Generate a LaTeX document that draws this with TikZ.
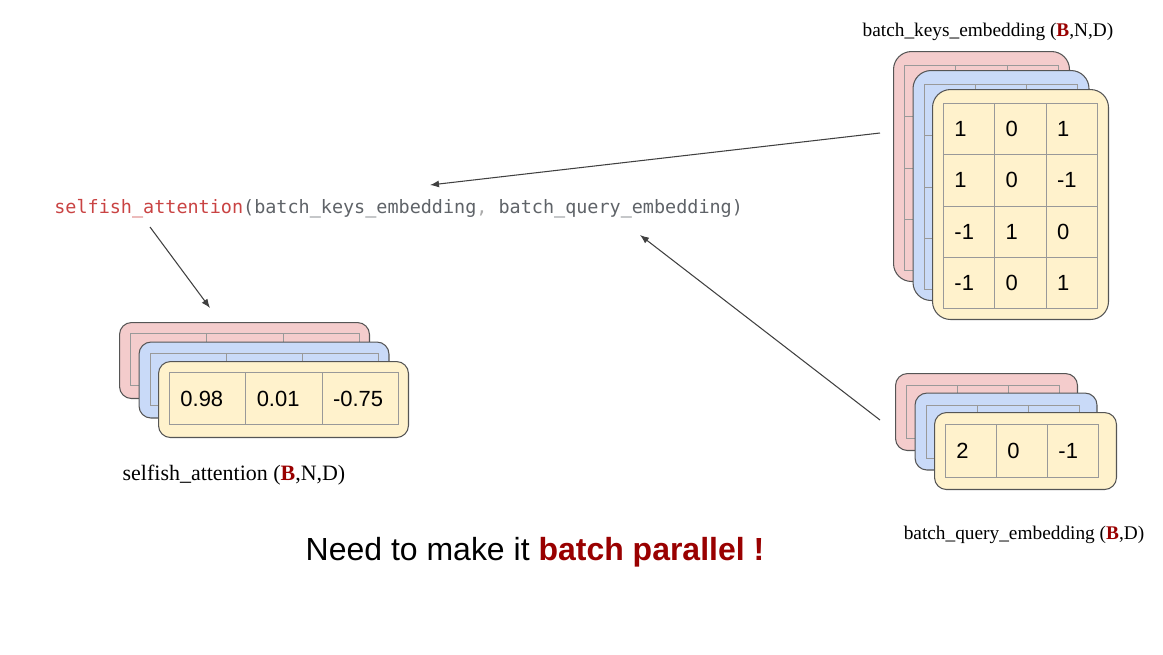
\documentclass[tikz,border=0pt]{standalone}
\usepackage{fontspec}
\setmainfont{Liberation Serif}
\setsansfont{Liberation Sans}
\setmonofont{DejaVu Sans Mono}
\usetikzlibrary{arrows.meta}
\definecolor{cardpink}{HTML}{F4CCCC}
\definecolor{cardblue}{HTML}{C9DAF8}
\definecolor{cardyellow}{HTML}{FFF2CC}
\definecolor{cardline}{HTML}{555555}
\definecolor{gridgray}{HTML}{999999}
\definecolor{darkred}{HTML}{990000}
\definecolor{codered}{HTML}{C94343}
\definecolor{codegray}{HTML}{5F6368}
\definecolor{commagray}{HTML}{AAAAAA}

\begin{document}
\begin{tikzpicture}[x=0.02cm,y=-0.02cm,
			card/.style={draw=cardline, line width=0.6pt, anchor=north west, inner sep=0pt},
			keycard/.style={card, rounded corners=0.36cm, minimum width=3.52cm, minimum height=4.6cm},
			outcard/.style={card, rounded corners=0.24cm, minimum width=5cm, minimum height=1.52cm},
			querycard/.style={card, rounded corners=0.24cm, minimum width=3.64cm, minimum height=1.54cm},
			cell/.style={draw=gridgray, line width=0.5pt, anchor=north west, inner xsep=0.22cm, inner ysep=0pt,
				align=left, font=\sffamily\fontsize{12.5}{14}\selectfont},
			keycell/.style={cell, text width=0.586cm, minimum height=1.025cm},
			outcell/.style={cell, text width=1.087cm, minimum height=1.04cm},
			querycell/.style={cell, text width=0.58cm, minimum height=1.06cm},
			caption/.style={font=\fontsize{11}{13}\selectfont},
			conn/.style={draw=black!75, line width=0.6pt, -{Latex[length=1.8mm,width=1.4mm]}}]
	\useasboundingbox (0,0) rectangle (1163,654);

	% keys stack
	\foreach \s/\fc in {2/cardpink, 1/cardblue} {
		\node [keycard, fill=\fc] (keys\s) at ({932-19.5*\s},{89-19*\s}) {};
		\foreach \r in {0,...,3}
			\foreach \c in {0,1,2}
				\node [keycell] (keys\s-\r-\c) at ({943-19.5*\s+51.3*\c},{103-19*\s+51.25*\r}) {};
	}
	\node [keycard, fill=cardyellow] (keys0) at (932,89) {};
	\foreach \row [count=\r from 0] in {{1,0,1},{1,0,-1},{-1,1,0},{-1,0,1}}
		\foreach \v [count=\c from 0] in \row
			\node [keycell] (keys0-\r-\c) at ({943+51.3*\c},{103+51.25*\r}) {\v};
	\node [caption] (keyslabel) at (988,32) {batch\_keys\_embedding (\textbf{\textcolor{darkred}{B}},N,D)};

	% query stack
	\foreach \s/\fc in {2/cardpink, 1/cardblue} {
		\node [querycard, fill=\fc] (query\s) at ({934-19.5*\s},{412-19.5*\s}) {};
		\foreach \c in {0,1,2}
			\node [querycell] (query\s-\c) at ({945-19.5*\s+51*\c},{424-19.5*\s}) {};
	}
	\node [querycard, fill=cardyellow] (query0) at (934,412) {};
	\foreach \v [count=\c from 0] in {2,0,-1}
		\node [querycell] (query0-\c) at ({945+51*\c},424) {\v};
	\node [caption] (querylabel) at (1024,535) {batch\_query\_embedding (\textbf{\textcolor{darkred}{B}},D)};

	% output stack
	\foreach \s/\fc in {2/cardpink, 1/cardblue} {
		\node [outcard, fill=\fc] (out\s) at ({158-19.5*\s},{361-19.5*\s}) {};
		\foreach \c in {0,1,2}
			\node [outcell] (out\s-\c) at ({169-19.5*\s+76.33*\c},{372-19.5*\s}) {};
	}
	\node [outcard, fill=cardyellow] (out0) at (158,361) {};
	\foreach \v [count=\c from 0] in {0.98,0.01,-0.75}
		\node [outcell] (out0-\c) at ({169+76.33*\c},372) {\v};
	\node [caption, font=\fontsize{12.5}{15}\selectfont] (outlabel) at (234,475) {selfish\_attention (\textbf{\textcolor{darkred}{B}},N,D)};

	% call
	\node [anchor=west, inner sep=0pt, text=codegray, font=\ttfamily\fontsize{10.5}{13}\selectfont] (call) at (54,209)
		{\textcolor{codered}{selfish\_attention}(batch\_keys\_embedding\textcolor{commagray}{,} batch\_query\_embedding)};

	\node [font=\sffamily\fontsize{18.2}{22}\selectfont] (note) at (535,552)
		{Need to make it \textbf{\textcolor{darkred}{batch parallel !}}};

	% arrows
	\coordinate (keysfrom) at (880,133);
	\coordinate (keysto) at (430,185);
	\coordinate (queryfrom) at (880,420);
	\coordinate (queryto) at (640,235);
	\coordinate (outfrom) at (150,227);
	\coordinate (outto) at (210,308);
	\draw [conn] (keysfrom) -- (keysto);
	\draw [conn] (queryfrom) -- (queryto);
	\draw [conn] (outfrom) -- (outto);
\end{tikzpicture}
\end{document}
